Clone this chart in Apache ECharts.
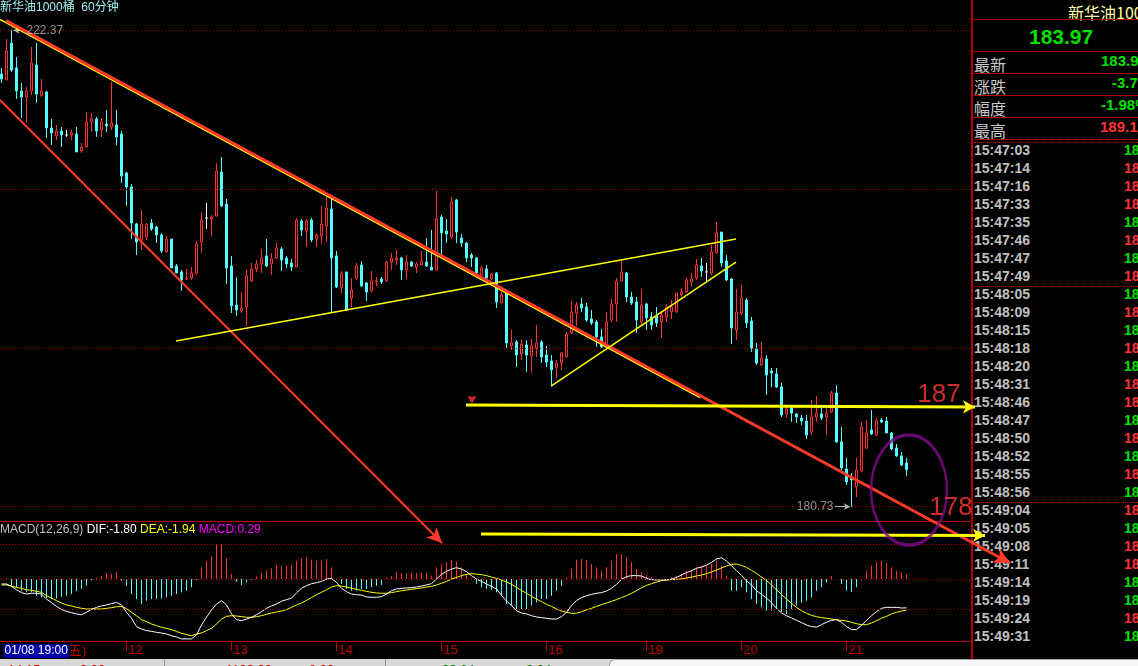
<!DOCTYPE html>
<html><head><meta charset="utf-8">
<script src="https://cdn.jsdelivr.net/npm/echarts@6/dist/echarts.min.js"></script>
<style>
html,body{margin:0;padding:0;background:#000;width:1138px;height:666px;overflow:hidden;}
#chart{position:absolute;left:0;top:0;width:1138px;height:666px;}
#panel{position:absolute;left:971px;top:0;width:167px;height:659px;border-left:2px solid #b00000;box-sizing:border-box;overflow:hidden;font-family:"Liberation Sans",Arial,sans-serif;}
.abs{position:absolute;white-space:nowrap;}
.hl{position:absolute;left:0;width:100%;height:0;border-top:1px solid #b00000;}
.dl{position:absolute;left:0;width:100%;height:0;border-top:1px dotted #d00000;}
#strip{position:absolute;left:0;top:659px;width:1138px;height:7px;background:#d8d8d8;overflow:hidden;font-family:"Liberation Sans","Noto Sans CJK SC",sans-serif;font-size:13px;}
</style></head>
<body>
<div id="panel"></div>
<div id="strip"></div>
<div id="chart"></div>
<script>
// ---------------- data ----------------
const chartTitle = '新华油1000桶  60分钟';
const dayIdx = [25, 46, 67, 88, 109, 129, 148, 169];
const dayLabels = ['12', '13', '14', '15', '16', '19', '20', '21'];
const firstLabel = '01/08 19:00';
const firstWeekday = '五)';

const opens = [
218.55,218.03,221.26,219.08,217.07,216.54,217.07,219.34,216.63,216.98,
213.83,213.13,213.57,213.22,213.22,213.31,211.82,212.17,214.36,214.62,
213.66,214.18,213.92,214.09,213.31,209.90,208.68,205.44,204.04,204.31,
205.53,205.18,204.48,203.00,204.13,201.77,201.25,200.64,200.72,201.16,
203.87,205.97,205.88,206.14,209.99,207.19,201.77,198.36,197.84,198.19,
200.46,201.51,201.95,202.65,201.95,202.47,203.26,202.47,202.03,201.68,
205.70,204.83,205.79,204.13,204.39,205.27,206.75,202.65,199.85,201.25,
198.97,200.72,201.86,200.29,199.59,200.37,200.64,200.46,202.12,202.30,
202.47,201.42,202.12,201.68,201.86,202.12,201.68,201.42,206.05,204.83,
204.31,207.54,204.22,203.78,202.73,202.47,200.99,201.51,200.64,201.16,
198.54,199.41,194.78,195.13,194.08,194.87,193.91,194.60,195.13,193.99,
193.47,192.86,193.29,193.82,195.92,197.66,198.45,198.19,197.14,196.88,
195.57,194.69,197.05,198.45,200.46,201.16,199.06,198.62,196.88,198.45,
197.31,197.40,196.88,197.31,197.75,197.75,199.24,199.50,200.37,200.72,
201.77,201.25,201.16,202.91,204.74,202.21,200.64,196.18,197.66,198.80,
196.96,194.52,193.12,193.64,192.59,192.33,191.20,188.84,189.36,188.84,
188.49,188.22,187.26,188.57,188.84,188.57,189.01,190.67,186.39,184.03,
183.24,182.46,183.86,185.86,187.44,187.00,188.31,188.22,187.17,185.86,
185.17,184.55];
const closes = [
218.12,220.56,218.90,217.07,216.54,217.07,219.51,216.80,217.07,213.83,
213.40,213.57,213.22,213.22,213.40,211.74,212.17,214.36,214.62,213.57,
214.36,214.01,214.27,213.05,209.64,208.68,205.53,203.87,205.44,205.44,
205.01,204.48,203.09,204.13,201.60,201.16,200.55,200.72,201.16,203.69,
205.79,205.97,206.05,210.07,207.02,201.60,198.28,197.93,198.10,200.90,
201.51,201.95,202.47,201.77,202.38,203.34,202.30,201.95,201.68,205.79,
204.92,205.70,204.04,204.48,205.44,206.84,202.47,199.94,201.16,197.93,
199.67,201.77,200.02,199.50,200.46,200.46,200.37,202.12,202.47,202.47,
201.42,202.12,201.77,201.95,202.21,201.77,201.42,205.88,204.66,204.57,
207.37,204.74,203.78,202.47,202.47,201.16,201.60,200.72,201.07,198.62,
199.24,195.04,195.04,193.99,194.95,193.99,194.78,195.04,193.82,193.38,
192.68,193.29,194.17,195.83,197.75,198.36,198.10,197.05,196.79,195.57,
194.69,196.88,198.45,200.46,201.25,199.06,198.54,197.05,198.36,197.23,
196.61,196.79,197.49,198.19,198.19,199.41,199.50,200.55,200.64,201.86,
201.33,201.25,203.00,204.66,202.03,200.55,196.35,197.75,198.97,196.79,
194.60,193.29,193.73,192.24,192.42,191.20,188.75,189.27,188.92,188.57,
188.22,187.00,188.57,188.92,188.49,188.92,190.67,186.39,184.12,182.89,
183.07,183.94,187.70,187.17,187.09,188.22,188.14,187.17,185.78,185.17,
184.38,183.97];
const lows = [
217.77,218.03,218.73,216.37,214.71,214.27,216.72,216.02,216.63,212.96,
212.35,212.78,212.17,213.05,212.78,211.74,211.65,212.17,213.48,213.05,
213.05,213.48,213.66,212.35,209.03,207.02,204.13,202.73,203.17,204.04,
204.83,203.78,202.91,202.91,201.60,201.16,199.59,200.55,200.55,200.99,
202.91,205.01,204.39,206.14,206.93,200.20,197.66,197.40,197.66,196.53,
200.37,201.25,201.16,201.68,200.99,202.38,201.33,201.60,201.33,201.68,
204.39,203.43,203.87,203.43,203.69,203.87,197.66,199.85,199.41,197.84,
198.19,200.55,199.94,198.71,199.50,200.02,200.20,200.37,201.42,201.86,
200.55,200.64,201.68,201.16,201.86,201.68,201.42,201.42,202.73,203.78,
204.13,203.78,203.43,202.12,201.68,200.99,200.90,200.72,200.55,198.10,
198.54,194.60,194.43,192.94,193.56,192.51,192.42,193.82,193.29,192.94,
191.28,191.98,192.68,193.82,195.83,196.53,197.75,196.88,196.61,194.69,
194.60,194.60,196.88,196.88,200.46,198.62,198.36,195.92,196.61,196.18,
196.18,196.44,195.48,196.88,197.14,197.75,199.06,199.41,199.94,200.55,
200.81,200.37,200.99,202.91,201.68,200.46,194.95,195.30,197.49,196.35,
194.26,193.12,193.03,190.50,191.20,191.11,188.57,188.49,188.14,188.05,
187.87,186.65,187.00,188.14,188.31,187.00,188.92,186.30,183.94,182.63,
180.73,181.58,183.77,185.78,187.00,186.91,188.05,187.17,185.69,185.08,
184.29,183.42];
const highs = [
219.08,221.61,222.37,220.04,217.77,217.42,220.91,221.26,218.12,217.07,
214.62,214.09,213.92,213.66,213.66,213.92,212.52,215.23,215.14,214.79,
214.71,215.41,217.85,215.41,213.57,209.99,208.94,205.53,206.67,205.53,
205.88,205.27,204.66,204.39,204.13,201.95,201.42,201.51,201.68,203.96,
206.49,207.28,206.23,210.77,211.30,207.63,202.65,200.81,199.50,201.42,
202.03,202.30,203.26,204.13,202.91,203.78,203.43,202.65,202.38,205.97,
205.88,205.88,205.97,204.66,207.02,207.98,207.89,203.08,201.33,201.25,
200.72,202.03,202.21,200.37,201.33,200.81,200.81,202.21,202.91,203.17,
202.56,202.73,202.21,202.12,203.08,204.22,204.92,208.33,206.23,205.88,
207.80,207.63,204.57,203.87,202.91,202.56,201.77,201.86,201.16,201.25,
199.59,199.50,196.18,195.30,195.39,195.30,195.39,196.61,195.30,194.78,
193.99,193.56,194.25,196.00,198.71,198.62,198.97,198.54,197.93,197.05,
196.27,197.75,198.89,200.72,202.30,201.25,199.50,199.06,199.76,198.54,
197.75,198.19,197.75,198.45,198.80,199.41,199.85,200.72,201.16,202.38,
202.47,202.03,203.61,205.62,204.74,202.73,200.72,199.76,200.11,198.97,
197.31,195.04,195.13,193.99,192.86,192.86,191.55,189.45,189.45,188.92,
188.75,188.75,190.06,190.41,189.36,189.36,190.85,191.37,187.70,184.99,
183.68,184.99,188.14,188.31,189.19,188.49,188.49,188.57,187.26,186.21,
185.52,184.99];

const dif = [
-0.31,-0.31,-0.46,-0.67,-0.85,-0.94,-0.89,-0.89,-0.94,-1.25,
-1.48,-1.71,-1.91,-2.02,-2.10,-2.18,-2.23,-2.08,-1.89,-1.77,
-1.68,-1.62,-1.54,-1.46,-1.62,-2.08,-2.45,-2.97,-3.12,-3.22,
-3.27,-3.33,-3.37,-3.43,-3.54,-3.62,-3.74,-3.74,-3.74,-3.49,
-2.87,-2.39,-1.93,-1.56,-1.35,-1.62,-2.18,-2.54,-2.60,-2.50,
-2.39,-2.23,-2.04,-1.83,-1.68,-1.56,-1.39,-1.29,-1.19,-0.87,
-0.58,-0.42,-0.29,-0.23,-0.15,0,0.04,-0.21,-0.58,-0.79,
-0.94,-0.98,-1.00,-1.12,-1.14,-1.14,-1.10,-0.94,-0.73,-0.62,
-0.58,-0.56,-0.54,-0.50,-0.44,-0.37,-0.29,0,0.29,0.48,
0.62,0.71,0.62,0.46,0.21,0,-0.15,-0.31,-0.46,-0.62,
-1.02,-1.37,-1.66,-1.98,-2.12,-2.18,-2.29,-2.37,-2.41,-2.45,
-2.50,-2.50,-2.35,-2.08,-1.66,-1.35,-1.16,-1.04,-0.96,-0.89,
-0.85,-0.75,-0.58,-0.33,-0.02,0.15,0.21,0.21,0.19,0.04,
-0.04,-0.06,-0.06,-0.06,0,0.10,0.25,0.40,0.52,0.67,
0.75,0.87,1.04,1.25,1.33,1.12,0.83,0.52,0.23,-0.12,
-0.37,-0.73,-0.96,-1.19,-1.48,-1.83,-2.12,-2.29,-2.43,-2.58,
-2.72,-2.87,-2.97,-3.00,-2.85,-2.70,-2.58,-2.54,-2.70,-2.97,
-3.16,-3.16,-2.89,-2.58,-2.29,-2.04,-1.83,-1.77,-1.77,-1.77,
-1.81,-1.80];
const dea = [
-0.37,-0.37,-0.44,-0.52,-0.58,-0.67,-0.71,-0.77,-0.83,-1.04,
-1.19,-1.35,-1.50,-1.62,-1.68,-1.77,-1.83,-1.87,-1.87,-1.87,
-1.87,-1.83,-1.79,-1.73,-1.71,-1.85,-2.08,-2.29,-2.54,-2.66,
-2.81,-2.91,-3.02,-3.08,-3.16,-3.27,-3.39,-3.47,-3.54,-3.43,
-3.37,-3.22,-3.08,-2.81,-2.50,-2.33,-2.29,-2.31,-2.35,-2.39,
-2.39,-2.35,-2.29,-2.20,-2.12,-2.06,-2.00,-1.91,-1.77,-1.62,
-1.50,-1.33,-1.16,-0.98,-0.83,-0.67,-0.50,-0.42,-0.44,-0.50,
-0.58,-0.64,-0.71,-0.77,-0.83,-0.87,-0.89,-0.89,-0.85,-0.79,
-0.73,-0.69,-0.64,-0.60,-0.56,-0.50,-0.46,-0.37,-0.27,-0.15,
0,0.10,0.21,0.29,0.33,0.31,0.27,0.21,0.12,0.04,
-0.06,-0.19,-0.33,-0.52,-0.71,-0.89,-1.08,-1.25,-1.41,-1.58,
-1.71,-1.87,-2.00,-2.08,-2.14,-2.14,-2.04,-1.93,-1.83,-1.71,
-1.60,-1.50,-1.39,-1.29,-1.16,-1.04,-0.89,-0.73,-0.54,-0.40,
-0.29,-0.19,-0.10,-0.06,-0.04,-0.02,0,0.06,0.12,0.19,
0.25,0.33,0.44,0.56,0.69,0.81,0.92,0.94,0.85,0.73,
0.54,0.35,0.12,-0.10,-0.37,-0.67,-0.96,-1.25,-1.52,-1.77,
-1.98,-2.14,-2.27,-2.35,-2.41,-2.45,-2.50,-2.54,-2.58,-2.62,
-2.70,-2.79,-2.85,-2.85,-2.75,-2.60,-2.45,-2.33,-2.18,-2.08,
-2.00,-1.94];
const macd = [
0.04,0.06,-0.42,-0.52,-0.73,-0.83,-0.83,-1.04,-1.14,-1.19,
-1.25,-1.21,-1.10,-1.04,-0.94,-0.77,-0.62,-0.42,-0.06,0.08,
0.17,0.37,0.31,0.42,-0.10,-0.42,-0.94,-1.25,-1.56,-1.35,
-1.25,-1.25,-1.21,-1.14,-1.04,-0.94,-0.83,-0.73,-0.52,-0.06,
0.73,1.14,1.41,2.18,2.18,1.29,0.31,-0.17,-0.37,-0.21,
-0.04,0.17,0.37,0.52,0.67,0.87,0.83,0.83,0.87,1.14,
1.29,1.35,1.21,1.14,1.14,1.25,0.73,0.04,-0.31,-0.62,
-0.73,-0.73,-0.62,-0.62,-0.52,-0.42,-0.37,0.10,0.21,0.42,
0.37,0.37,0.37,0.37,0.37,0.37,0.21,0.73,0.94,1.04,
1.19,1.08,0.73,0.31,0.04,-0.31,-0.52,-0.62,-0.67,-0.83,
-1.04,-1.56,-1.66,-1.87,-1.87,-1.87,-1.66,-1.46,-1.25,-1.25,
-1.04,-0.73,-0.42,0.10,0.62,1.21,1.25,1.19,0.94,0.73,
0.52,0.73,1.14,1.56,1.56,1.35,1.04,0.62,0.42,0.25,
0.10,0.02,-0.02,0,0.10,0.21,0.31,0.52,0.58,0.73,
0.83,0.83,0.94,1.14,0.83,0.21,-0.73,-0.73,-0.52,-0.83,
-1.25,-1.56,-1.77,-1.98,-1.98,-1.87,-2.08,-2.18,-1.87,-1.66,
-1.46,-1.35,-1.14,-0.73,-0.52,-0.21,0.17,0,-0.31,-0.73,
-0.79,-0.52,-0.10,0.52,0.83,1.08,1.14,1.00,0.73,0.52,
0.40,0.29];
const macdGuides = [2.18, 0, -1.87];

// drawn annotations, in (bar index, price)
const upperTrendRed = [[0.9, 223.22], [201.7, 175.81]];
const upperTrendYellow = [[-0.3, 223.32], [139.7, 190.28]];
const lowerTrendRed = [[-0.3, 216.28], [88.1, 177.56]];
const supportA = [[34.9, 195.22], [146.9, 204.13]];
const supportB = [[109.9, 191.28], [146.9, 202.12]];
const level187 = [[92.9, 189.62], [194.7, 189.45]];
const level178 = [[95.9, 178.35], [196.7, 178.22]];
const markerDown = [94.1, 190.06];
const circleCenter = [181.5, 182.19];
const textMarks = [{name: '187', value: [187.5, 190.50]}, {name: '178', value: [189.9, 180.62]}];

// quote panel
const quoteName = '新华油1000桶';
const lastPrice = '183.97';
const quoteRows = [['最新', '183.97', 'g'], ['涨跌', '-3.71', 'g'], ['幅度', '-1.98%', 'g'], ['最高', '189.19', 'r']];
const tickTimes = ['15:47:03','15:47:14','15:47:16','15:47:33','15:47:35','15:47:46','15:47:47','15:47:49',
'15:48:05','15:48:09','15:48:15','15:48:18','15:48:20','15:48:31','15:48:46','15:48:47','15:48:50','15:48:52','15:48:55','15:48:56',
'15:49:04','15:49:05','15:49:08','15:49:11','15:49:14','15:49:19','15:49:24','15:49:31'];
const tickDirs = 'grrrgrgrgrgrgrrgrgrgrgrrggrg';
const tickPriceText = '18';

// ---------------- panel (HTML) ----------------
(function(){
  const p = document.getElementById('panel');
  const G = '#00e000', R = '#ff3232';
  let h = '';
  h += `<div class="abs" style="left:95px;top:0;height:19px;line-height:19px;font:16px 'Noto Sans CJK SC';color:#ffffa0">${quoteName}</div>`;
  h += `<div class="hl" style="top:19px"></div>`;
  h += `<div class="abs" style="left:56px;top:25px;height:22px;line-height:22px;font:bold 21px 'Liberation Sans';color:${G}">${lastPrice}</div>`;
  h += `<div class="hl" style="top:51px"></div>`;
  const valLeft = [128, 139, 128, 127];
  quoteRows.forEach((r, k) => {
    const top = 52 + k * 22;
    h += `<div class="abs" style="left:1px;top:${top}px;height:21px;line-height:21px;font:16px 'Noto Sans CJK SC';color:#c8c8c8">${r[0]}</div>`;
    h += `<div class="abs" style="left:${valLeft[k]}px;top:${top}px;height:21px;line-height:21px;font:bold 15px 'Liberation Sans';color:${r[2]==='g'?G:R}">${r[1]}</div>`;
    h += `<div class="hl" style="top:${top + 21}px"></div>`;
  });
  h += `<div class="dl" style="top:142px"></div>`;
  tickTimes.forEach((t, k) => {
    const top = 142 + k * 18;
    h += `<div class="abs" style="left:1px;top:${top}px;height:18px;line-height:18px;font:bold 14px 'Liberation Sans';color:#c0c0c0">${t}</div>`;
    h += `<div class="abs" style="left:151px;top:${top}px;height:18px;line-height:18px;font:bold 14px 'Liberation Sans';color:${tickDirs[k]==='g'?G:R}">${tickPriceText}</div>`;
  });
  h += `<div class="dl" style="top:286px"></div>`;
  h += `<div class="dl" style="top:502px"></div>`;
  p.innerHTML = h;

  const s = document.getElementById('strip');
  s.innerHTML =
    `<div class="abs" style="left:609px;top:0;width:540px;height:8px;background:#f6f6f6;border-top:1px solid #a0a0a0;border-left:1px solid #a0a0a0;border-top-left-radius:6px"></div>` +
    `<div class="abs" style="left:164px;top:0;width:1px;height:8px;background:#909090"></div>` +
    `<div class="abs" style="left:385px;top:0;width:1px;height:8px;background:#909090"></div>` +
    `<div class="abs" style="left:8px;top:3px;color:#e00000">14:15</div>` +
    `<div class="abs" style="left:80px;top:3px;color:#e00000">0.00</div>` +
    `<div class="abs" style="left:170px;top:3px;color:#000">现货黄金</div>` +
    `<div class="abs" style="left:226px;top:3px;color:#e00000">1199.09</div>` +
    `<div class="abs" style="left:309px;top:3px;color:#e00000">0.00</div>` +
    `<div class="abs" style="left:390px;top:3px;color:#000">美元指数</div>` +
    `<div class="abs" style="left:442px;top:3px;color:#008000">99.64</div>` +
    `<div class="abs" style="left:526px;top:3px;color:#008000">0.04</div>`;
})();

// ---------------- chart ----------------
const N = closes.length;
const candleData = opens.map((o, i) => [i, o, closes[i], lows[i], highs[i]]);
const hi = Math.max.apply(null, highs), lo = Math.min.apply(null, lows);
const hiIdx = highs.indexOf(hi), loIdx = lows.indexOf(lo);
const gridLevels = [hi, hi - (hi - lo) / 3, hi - 2 * (hi - lo) / 3, lo];

const X_MIN = -0.3, X_MAX_MAIN = 193.7, X_MAX_FULL = 227.3;
const RED = '#ff3232', CYAN = '#54ffff', YEL = '#ffff00', AXR = '#c00000';

function seg(pts, color, width, arrow, size) {
  return {
    type: 'line', xAxisIndex: 2, yAxisIndex: 2, z: 10, silent: true,
    data: pts, showSymbol: false, symbol: 'none', lineStyle: {opacity: 0},
    markLine: {
      silent: true, animation: false,
      symbol: ['none', arrow ? 'arrow' : 'none'], symbolSize: size || [10, 12],
      label: {show: false}, emphasis: {disabled: true},
      lineStyle: {color: color, width: width, type: 'solid', opacity: 1},
      data: [[{coord: pts[0]}, {coord: pts[1]}]]
    }
  };
}

const chart = echarts.init(document.getElementById('chart'), null, {renderer: 'canvas'});
const option = {
  animation: false,
  backgroundColor: 'transparent',
  textStyle: {fontFamily: 'Liberation Sans, Arial, Noto Sans CJK SC, sans-serif'},
  title: [
    {text: chartTitle, left: 0, top: 2, padding: 0,
     textStyle: {color: '#a0f0f0', fontSize: 12, fontWeight: 'normal', fontFamily: 'Liberation Sans, Noto Sans CJK SC'}},
    {text: '{g|MACD(12,26,9)} {w|DIF:' + dif[N-1].toFixed(2) + '} {y|DEA:' + dea[N-1].toFixed(2) + '} {m|MACD:' + macd[N-1].toFixed(2) + '}',
     left: 0, top: 524, padding: 0,
     textStyle: {fontSize: 12, fontWeight: 'normal', rich: {
       g: {color: '#c0c0c0', fontSize: 12}, w: {color: '#ffffff', fontSize: 12},
       y: {color: '#ffff00', fontSize: 12}, m: {color: '#ff00ff', fontSize: 12}}}}
  ],
  grid: [
    {left: 0, top: 0, width: 970, height: 521},
    {left: 0, top: 522, width: 970, height: 119},
    {left: 0, top: 0, width: 1138, height: 666}
  ],
  xAxis: [
    {type: 'value', gridIndex: 0, min: X_MIN, max: X_MAX_MAIN,
     axisLine: {show: true, onZero: false, lineStyle: {color: AXR, width: 1}},
     axisTick: {show: false}, axisLabel: {show: false}, splitLine: {show: false}},
    {type: 'value', gridIndex: 1, min: X_MIN, max: X_MAX_MAIN,
     axisLine: {show: true, onZero: false, lineStyle: {color: AXR, width: 1}},
     axisTick: {show: true, customValues: dayIdx, length: 10, inside: false, lineStyle: {color: AXR}},
     axisLabel: {show: true, customValues: [0].concat(dayIdx), align: 'left', margin: 3,
       color: AXR, fontSize: 13, padding: [0, 0, 0, 2],
       formatter: function (v) {
         if (v === 0) return '{box|' + firstLabel + '}{wd|' + firstWeekday + '}';
         const k = dayIdx.indexOf(v); return k >= 0 ? dayLabels[k] : '';
       },
       rich: {box: {backgroundColor: '#0000a8', color: '#ffffff', fontSize: 12, padding: [1, 1, 1, 1]},
              wd: {color: AXR, fontSize: 13}}},
     splitLine: {show: false}},
    {type: 'value', gridIndex: 2, min: X_MIN, max: X_MAX_FULL, show: false}
  ],
  yAxis: [
    {type: 'value', gridIndex: 0, min: 179.48, max: 225.02, show: false},
    {type: 'value', gridIndex: 1, min: -3.87, max: 3.56, show: false},
    {type: 'value', gridIndex: 2, min: 166.81, max: 225.02, show: false}
  ],
  series: [
    {type: 'candlestick', xAxisIndex: 0, yAxisIndex: 0, data: candleData,
     encode: {x: 0, y: [1, 2, 3, 4]}, barWidth: 3,
     itemStyle: {color: '#000000', borderColor: RED, color0: CYAN, borderColor0: CYAN,
                 borderColorDoji: '#ffffff', borderWidth: 1},
     markLine: {silent: true, symbol: 'none', label: {show: false},
       lineStyle: {color: '#b00000', type: [1, 2], width: 1},
       data: gridLevels.map(v => ({yAxis: v}))}},
    {type: 'scatter', xAxisIndex: 0, yAxisIndex: 0, z: 6, silent: true,
     data: [[hiIdx, hi]], symbolSize: 0,
     label: {show: true, position: 'right', distance: 15, color: '#b8b8b8', fontSize: 12,
             formatter: p => p.value[1].toFixed(2)},
     markLine: {silent: true, symbol: ['none', 'arrow'], symbolSize: [5, 6], label: {show: false},
       lineStyle: {color: '#b8b8b8', width: 1, type: 'solid'},
       data: [[{coord: [hiIdx + 2.9, hi]}, {coord: [hiIdx + 0.4, hi]}]]}},
    {type: 'scatter', xAxisIndex: 0, yAxisIndex: 0, z: 6, silent: true,
     data: [[loIdx, lo]], symbolSize: 0,
     label: {show: true, position: 'left', distance: 18, color: '#b8b8b8', fontSize: 12,
             formatter: p => p.value[1].toFixed(2)},
     markLine: {silent: true, symbol: ['none', 'arrow'], symbolSize: [5, 6], label: {show: false},
       lineStyle: {color: '#b8b8b8', width: 1, type: 'solid'},
       data: [[{coord: [loIdx - 3.3, lo]}, {coord: [loIdx - 0.3, lo]}]]}},
    {type: 'bar', xAxisIndex: 1, yAxisIndex: 1, barWidth: 1,
     data: macd.map((v, i) => [i, v]),
     itemStyle: {color: p => (p.value[1] >= 0 ? RED : CYAN)},
     markLine: {silent: true, symbol: 'none', label: {show: false},
       lineStyle: {color: '#b00000', type: [1, 2], width: 1},
       data: macdGuides.map(v => ({yAxis: v}))}},
    {type: 'line', xAxisIndex: 1, yAxisIndex: 1, data: dif.map((v, i) => [i, v]),
     showSymbol: false, symbol: 'none', lineStyle: {color: '#ffffff', width: 1}, z: 4},
    {type: 'line', xAxisIndex: 1, yAxisIndex: 1, data: dea.map((v, i) => [i, v]),
     showSymbol: false, symbol: 'none', lineStyle: {color: YEL, width: 1}, z: 3},
    seg(upperTrendYellow, YEL, 1.5, false),
    seg(upperTrendRed, '#ff3a2a', 3, true, [12, 16]),
    seg(lowerTrendRed, '#ff3a2a', 2, true, [11, 15]),
    seg(supportA, YEL, 1.5, false),
    seg(supportB, YEL, 1.5, false),
    seg(level187, YEL, 3, true, [10, 12]),
    seg(level178, YEL, 3, true, [10, 12]),
    {type: 'scatter', xAxisIndex: 2, yAxisIndex: 2, z: 11, silent: true,
     data: [markerDown], symbol: 'triangle', symbolRotate: 180, symbolSize: [9, 7],
     itemStyle: {color: '#ff3030'}},
    {type: 'scatter', xAxisIndex: 2, yAxisIndex: 2, z: 11, silent: true,
     data: [circleCenter], symbol: 'circle', symbolSize: [76, 110],
     itemStyle: {color: 'rgba(0,0,0,0)', borderColor: '#800a8c', borderWidth: 3}},
    {type: 'scatter', xAxisIndex: 2, yAxisIndex: 2, z: 12, silent: true,
     data: textMarks, symbolSize: 0,
     label: {show: true, position: 'inside', formatter: p => p.name, color: '#ff3838', fontSize: 26,
             fontFamily: 'Liberation Sans, Arial'}}
  ]
};
chart.setOption(option);
</script>
</body></html>
